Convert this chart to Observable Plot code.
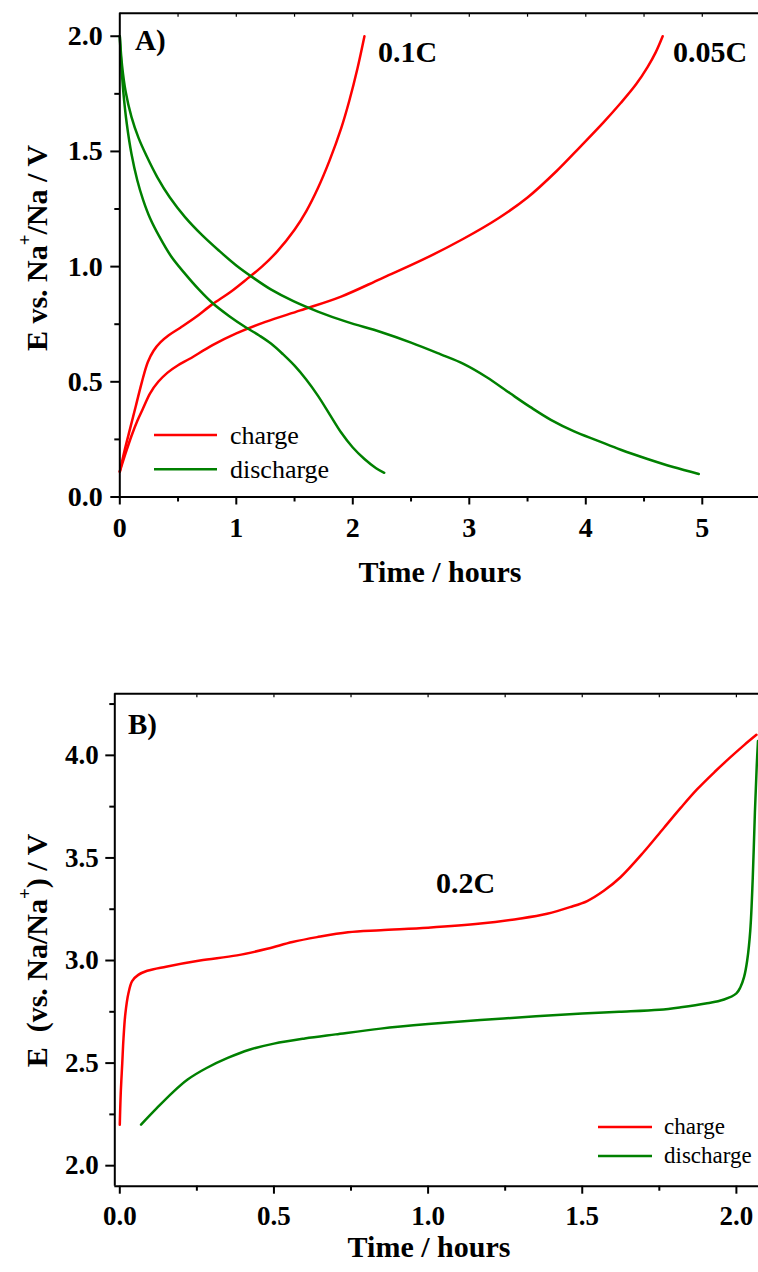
<!DOCTYPE html>
<html><head><meta charset="utf-8">
<script src="https://cdn.jsdelivr.net/npm/d3@7"></script>
<script src="https://cdn.jsdelivr.net/npm/@observablehq/plot@0.6"></script>
<style>
html,body{margin:0;padding:0;background:#fff;overflow:hidden;}
#chart{width:758px;height:1272px;}
#chart svg{display:block;}
</style></head><body><div id="chart"></div>
<script>
// ---------- Panel A data (time [h], E [V]) ----------
const a_charge_01C = [[0,0.11],[0.04,0.2],[0.09,0.3],[0.14,0.4],[0.19,0.5],[0.24,0.585],[0.29,0.635],[0.35,0.672],[0.42,0.702],[0.52,0.735],[0.65,0.78],[0.79,0.835],[0.95,0.89],[1.1,0.95],[1.22,1.0],[1.35,1.065],[1.5,1.16],[1.6,1.24],[1.7,1.34],[1.8,1.46],[1.9,1.6],[1.97,1.72],[2.04,1.86],[2.10,2.0]];
const a_charge_005C = [[0,0.11],[0.05,0.19],[0.1,0.265],[0.15,0.33],[0.2,0.385],[0.26,0.45],[0.33,0.5],[0.41,0.54],[0.5,0.572],[0.6,0.6],[0.8,0.66],[1.0,0.71],[1.25,0.76],[1.55,0.81],[1.9,0.87],[2.24,0.947],[2.6,1.03],[2.95,1.121],[3.25,1.21],[3.5,1.30],[3.75,1.415],[3.95,1.519],[4.15,1.625],[4.3,1.71],[4.43,1.79],[4.53,1.866],[4.6,1.93],[4.66,2.0]];
const a_discharge_01C = [[0,2.0],[0.01,1.9],[0.03,1.76],[0.06,1.62],[0.1,1.49],[0.15,1.375],[0.2,1.29],[0.26,1.21],[0.34,1.13],[0.44,1.045],[0.55,0.975],[0.68,0.9],[0.8,0.84],[0.94,0.785],[1.08,0.737],[1.2,0.70],[1.3,0.665],[1.4,0.62],[1.5,0.57],[1.6,0.51],[1.7,0.44],[1.8,0.36],[1.9,0.28],[2.0,0.215],[2.1,0.165],[2.2,0.125],[2.27,0.105]];
const a_discharge_005C = [[0,2.0],[0.02,1.87],[0.05,1.76],[0.1,1.65],[0.16,1.56],[0.23,1.48],[0.32,1.39],[0.43,1.30],[0.56,1.215],[0.7,1.14],[0.85,1.07],[1.0,1.005],[1.15,0.95],[1.3,0.9],[1.49,0.85],[1.7,0.805],[1.95,0.76],[2.24,0.716],[2.5,0.67],[2.75,0.62],[2.95,0.578],[3.15,0.52],[3.35,0.45],[3.525,0.39],[3.7,0.335],[3.9,0.285],[4.1,0.245],[4.3,0.205],[4.53,0.165],[4.75,0.13],[4.97,0.10]];
// ---------- Panel B data ----------
const b_charge = [[0.0,2.2],[0.003,2.35],[0.008,2.5],[0.012,2.62],[0.018,2.74],[0.028,2.84],[0.04,2.9],[0.06,2.93],[0.089,2.95],[0.15,2.97],[0.26,3.0],[0.38,3.025],[0.478,3.057],[0.56,3.09],[0.64,3.114],[0.74,3.138],[0.846,3.148],[1.0,3.16],[1.17,3.18],[1.3,3.205],[1.386,3.228],[1.46,3.26],[1.516,3.29],[1.57,3.34],[1.624,3.406],[1.7,3.53],[1.764,3.645],[1.82,3.745],[1.873,3.835],[1.93,3.92],[1.98,3.99],[2.025,4.05],[2.065,4.10]];
const b_discharge = [[0.069,2.2],[0.12,2.28],[0.17,2.355],[0.22,2.42],[0.28,2.475],[0.35,2.525],[0.42,2.565],[0.5,2.595],[0.6,2.62],[0.7,2.64],[0.846,2.668],[1.0,2.69],[1.17,2.71],[1.35,2.728],[1.5,2.742],[1.62,2.75],[1.75,2.76],[1.82,2.772],[1.9,2.79],[1.96,2.81],[2.0,2.84],[2.013,2.87],[2.025,2.92],[2.035,3.0],[2.045,3.146],[2.053,3.4],[2.06,3.72],[2.066,3.95],[2.07,4.07]];

// ---------- ticks ----------
const aXTicks = [0,1,2,3,4,5];
const aXMinor = [0.5,1.5,2.5,3.5,4.5];
const aXTop = [0.5,1,1.5,2,2.5,3,3.5,4,4.5,5];
const aYTicks = [0,0.5,1.0,1.5,2.0];
const aYMinor = [0.25,0.75,1.25,1.75];
const bXTicks = [0,0.5,1.0,1.5,2.0];
const bXMinor = [0.25,0.75,1.25,1.75];
const bXTop = [0.25,0.5,0.75,1,1.25,1.5,1.75,2];
const bYTicks = [2.0,2.5,3.0,3.5,4.0];
const bYMinor = [2.25,2.75,3.25,3.75,4.25];

const RED = "#ff0000", GREEN = "#008000";
const FONT = "'Liberation Serif', 'Times New Roman', serif";
const LW = 2.5;

function toRows(arr, series, kind) { return arr.map(([t, E]) => ({t, E, series, kind})); }
const tableA = [
  ...toRows(a_charge_01C, "c01", "charge"), ...toRows(a_charge_005C, "c005", "charge"),
  ...toRows(a_discharge_01C, "d01", "discharge"), ...toRows(a_discharge_005C, "d005", "discharge")];
const tableB = [...toRows(b_charge, "c", "charge"), ...toRows(b_discharge, "d", "discharge")];
const colorOf = d => d.kind === "charge" ? RED : GREEN;

const fmt1 = d3.format(".1f");
const blank = () => "";

function axes(xT, xMin, xTop, yT, yMin, xFmt, yFmt, fs, xPad, yPad) {
  const common = {label: null, stroke: "black", strokeWidth: 2, fontWeight: "bold", fontSize: fs, fontFamily: FONT};
  return [
    Plot.axisX(xT, {...common, anchor: "bottom", tickSize: 8, tickPadding: xPad, tickFormat: xFmt}),
    Plot.axisX(xMin, {...common, anchor: "bottom", tickSize: 5, tickFormat: blank}),
    Plot.axisX(xTop, {...common, anchor: "top", tickSize: -3, strokeWidth: 1.2, tickFormat: blank}),
    Plot.axisY(yT, {...common, anchor: "left", tickSize: 9, tickPadding: yPad, tickFormat: yFmt}),
    Plot.axisY(yMin, {...common, anchor: "left", tickSize: 5, tickFormat: blank})
  ];
}

const xDomA = [0, 5.4825], yDomA = [0, 2.1];
const plotA = Plot.plot({
  width: 758, height: 620,
  marginLeft: 119.3, marginRight: 0, marginTop: 12.7, marginBottom: 123.5,
  style: {fontFamily: FONT, background: "white", overflow: "visible"},
  x: {domain: xDomA, label: null}, y: {domain: yDomA, label: null},
  marks: [
    Plot.line(tableA, {x: "t", y: "E", z: "series", stroke: colorOf, strokeWidth: LW, curve: "catmull-rom"}),
    Plot.ruleY([yDomA[0], yDomA[1]], {stroke: "black", strokeWidth: 2}),
    Plot.ruleX([xDomA[0]], {stroke: "black", strokeWidth: 2}),
    ...axes(aXTicks, aXMinor, aXTop, aYTicks, aYMinor, d => String(d), fmt1, 28, 12, 8)
  ]
});

const xDomB = [-0.0162, 2.0717], yDomB = [1.9, 4.3];
const plotB = Plot.plot({
  width: 758, height: 652,
  marginLeft: 114.3, marginRight: 0, marginTop: 73.3, marginBottom: 86.3,
  style: {fontFamily: FONT, background: "white", overflow: "visible"},
  x: {domain: xDomB, label: null}, y: {domain: yDomB, label: null},
  marks: [
    Plot.line(tableB, {x: "t", y: "E", z: "series", stroke: colorOf, strokeWidth: LW, curve: "catmull-rom"}),
    Plot.ruleY([yDomB[0], yDomB[1]], {stroke: "black", strokeWidth: 2}),
    Plot.ruleX([xDomB[0]], {stroke: "black", strokeWidth: 2}),
    ...axes(bXTicks, bXMinor, bXTop, bYTicks, bYMinor, fmt1, fmt1, 27, 12, 7)
  ]
});

const root = document.getElementById("chart");
root.appendChild(plotA);
root.appendChild(plotB);

function txt(svg, x, y, parts, {size = 28, weight = "bold", anchor = "start", rotate = 0} = {}) {
  const t = d3.select(svg).append("text")
    .attr("transform", `translate(${x},${y}) rotate(${rotate})`)
    .attr("text-anchor", anchor)
    .attr("font-family", FONT).attr("font-weight", weight).attr("font-size", size)
    .attr("fill", "black").style("white-space", "pre");
  for (const p of (Array.isArray(parts) ? parts : [parts])) {
    if (typeof p === "string") t.append("tspan").text(p);
    else t.append("tspan").attr("dy", p.dy).attr("font-size", p.size || null).text(p.text);
  }
  return t;
}
function legend(svg, x1, x2, yC, yD, tx, yCt, yDt, size) {
  const g = d3.select(svg).append("g");
  g.append("line").attr("x1", x1).attr("x2", x2).attr("y1", yC).attr("y2", yC).attr("stroke", RED).attr("stroke-width", LW);
  g.append("line").attr("x1", x1).attr("x2", x2).attr("y1", yD).attr("y2", yD).attr("stroke", GREEN).attr("stroke-width", LW);
  txt(svg, tx, yCt, "charge", {size, weight: "normal"});
  txt(svg, tx, yDt, "discharge", {size, weight: "normal"});
}

// Panel A annotations
txt(plotA, 135, 49.5, "A)", {size: 29});
txt(plotA, 378, 61.5, "0.1C", {size: 30});
txt(plotA, 673, 61.5, "0.05C", {size: 30});
legend(plotA, 154, 217, 435, 469.3, 230, 444, 478, 26);
txt(plotA, 440, 581.5, "Time / hours", {size: 30, anchor: "middle"});
txt(plotA, 47, 248, ["E vs. Na", {text: "+", dy: -16, size: 19}, {text: "/Na / V", dy: 16}], {size: 30, anchor: "middle", rotate: -90});

// Panel B annotations
txt(plotB, 128, 114, "B)", {size: 29});
txt(plotB, 436, 273.3, "0.2C", {size: 30});
legend(plotB, 598, 652, 507, 536, 664, 514, 543, 23);
txt(plotB, 429, 637, "Time / hours", {size: 30, anchor: "middle"});
txt(plotB, 47, 330.5, ["E  (vs. Na/Na", {text: "+", dy: -16, size: 19}, {text: ") / V", dy: 16}], {size: 30, anchor: "middle", rotate: -90});
</script></body></html>
